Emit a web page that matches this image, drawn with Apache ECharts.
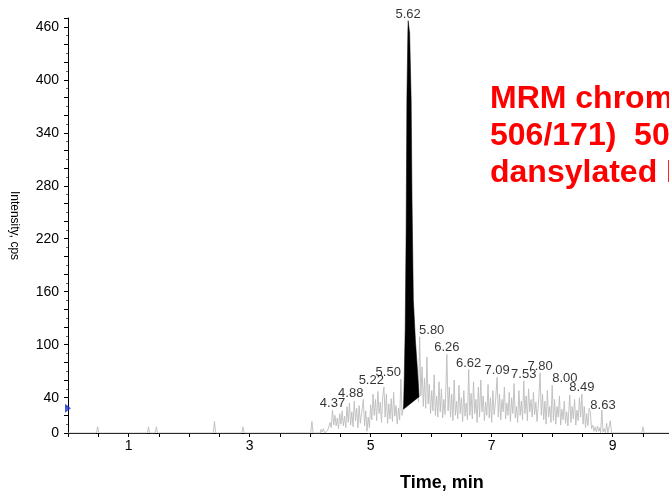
<!DOCTYPE html>
<html>
<head>
<meta charset="utf-8">
<script src="https://cdn.jsdelivr.net/npm/echarts@6/dist/echarts.min.js"></script>
<style>
html,body{margin:0;padding:0;background:#fff;}
#chart{width:669px;height:495px;}
</style>
</head>
<body>
<div id="chart"></div>
<script>
// ---- data ----
const xTickLabels = [1, 3, 5, 7, 9];
const yTickLabels = [0, 40, 100, 160, 220, 280, 340, 400, 460];

// raw MRM trace (time min, intensity cps); null = hidden under the integrated peak
const traceData = [
  [0.00,0],[0.47,0],[0.49,7],[0.51,0],[1.31,0],[1.33,7],[1.35,0],[1.44,0],[1.46,7],[1.48,0],
  [2.00,0],[2.02,2],[2.04,0],[2.40,0],[2.42,13],[2.44,0],[2.87,0],[2.89,7],[2.91,0],
  [4.01,0],[4.03,13],[4.05,0],[4.17,0],[4.18,4],[4.20,1],[4.22,5],[4.24,0],
  [4.27,0],[4.29,3],[4.31,1],[4.33,12],[4.35,6],[4.37,26],[4.39,9],[4.41,20],[4.43,8],[4.45,17],
  [4.47,5],[4.49,22],[4.51,10],[4.53,25],[4.55,8],[4.57,19],[4.59,6],
  [4.61,30],[4.63,12],[4.65,34],[4.67,9],[4.69,24],[4.71,7],[4.73,36],[4.75,14],[4.77,28],[4.79,6],
  [4.81,31],[4.83,11],[4.85,22],[4.88,38],[4.90,8],[4.92,25],[4.94,2],[4.96,18],[4.98,6],
  [5.00,32],[5.02,15],[5.04,44],[5.06,20],[5.08,38],[5.10,14],[5.12,47],[5.14,22],[5.16,35],[5.18,12],
  [5.20,41],[5.22,52],[5.24,18],[5.26,44],[5.28,11],[5.30,33],[5.32,16],[5.34,39],[5.36,13],[5.38,46],
  [5.40,19],[5.42,31],[5.44,10],[5.46,28],[5.48,15],[5.50,61],[5.52,20],[5.54,30],[5.56,null],
  [5.79,35],[5.81,109],[5.83,42],[5.85,75],[5.87,30],[5.89,62],[5.91,28],[5.93,86],[5.95,33],[5.97,55],
  [5.99,22],[6.01,48],[6.03,25],[6.05,66],[6.07,20],[6.09,42],[6.11,18],[6.13,58],[6.15,24],[6.17,50],
  [6.19,17],[6.21,38],[6.23,21],[6.26,89],
  [6.28,25],[6.30,52],[6.32,18],[6.34,44],[6.36,14],[6.38,60],[6.40,20],[6.42,36],[6.44,16],[6.46,54],
  [6.48,22],[6.50,40],[6.52,13],[6.54,48],[6.56,19],[6.58,34],[6.60,15],[6.62,72],
  [6.64,20],[6.66,45],[6.68,16],[6.70,58],[6.72,22],[6.74,38],[6.76,12],[6.78,52],[6.80,18],[6.82,60],
  [6.84,24],[6.86,42],[6.88,14],[6.90,35],[6.92,20],[6.94,55],[6.96,17],[6.98,40],[7.00,12],[7.02,48],
  [7.04,21],[7.06,33],[7.09,63],
  [7.11,18],[7.13,44],[7.15,15],[7.17,38],[7.19,24],[7.21,52],[7.23,16],[7.25,34],[7.27,20],[7.29,46],
  [7.31,13],[7.33,40],[7.35,22],[7.37,56],[7.39,17],[7.41,30],[7.43,12],[7.45,48],[7.47,20],[7.49,36],
  [7.51,15],[7.53,59],
  [7.55,22],[7.57,42],[7.59,14],[7.61,50],[7.63,24],[7.65,38],[7.67,18],[7.69,46],[7.71,21],[7.73,35],
  [7.75,13],[7.78,40],[7.80,68],[7.82,20],[7.84,44],[7.86,15],[7.88,36],[7.90,10],[7.92,48],[7.94,18],
  [7.96,30],[7.98,12],[8.00,54],
  [8.02,14],[8.04,38],[8.06,10],[8.08,30],[8.10,18],[8.12,42],[8.14,9],[8.16,27],[8.18,15],[8.20,36],
  [8.22,11],[8.24,24],[8.26,8],[8.29,43],[8.31,12],[8.33,30],[8.35,16],[8.37,38],[8.39,9],[8.41,26],
  [8.43,14],[8.45,40],[8.47,18],[8.49,44],
  [8.51,10],[8.53,30],[8.55,6],[8.57,22],[8.59,8],[8.61,28],[8.63,24],[8.65,5],[8.67,9],[8.69,2],
  [8.71,7],[8.73,1],[8.75,8],[8.77,2],[8.79,6],[8.80,0],[8.82,26],[8.84,1],[8.86,5],[8.88,0],
  [8.90,11],[8.92,0],[8.94,2],[8.96,14],[8.98,0],[9.48,0],[9.50,7],[9.52,0],[9.93,0]
];

// integrated peak outline (black area) with its sloping baseline
const peakTime      = [5.543, 5.555, 5.571, 5.587, 5.599, 5.615, 5.620, 5.645, 5.670, 5.684, 5.706, 5.740, 5.770, 5.801];
const peakIntensity = [27,    60,    117,   230,   377,   453,   467,   453,   377,   264,   151,   105,   75,    41];

// apex labels
const apexTimes   = [4.37, 4.88, 5.22, 5.50, 5.62, 5.80, 6.26, 6.62, 7.09, 7.53, 7.80, 8.00, 8.49, 8.63];
const apexHeights = [26,   38,   52,   61,   467,  109,  89,   72,   63,   59,   68,   54,   44,   24];

// threshold marker on the intensity axis
const thresholdValue = 27;

// ---- presentation ----
const labelAlign = {'4.88':'right','5.22':'right','5.50':'right','5.80':'left','8.00':'left','8.63':'left'};
const FONT = 'Liberation Sans, Arial, sans-serif';

const chart = echarts.init(document.getElementById('chart'), null, {renderer:'canvas'});
chart.setOption({
  animation: false,
  backgroundColor: '#ffffff',
  grid: {left: 68, right: 0, top: 18, bottom: 62, containLabel: false, outerBoundsMode: 'none'},
  xAxis: {
    type: 'value', min: 0, max: 9.93, interval: 0.5,
    axisLine: {show: true, lineStyle: {color: '#000', width: 1}},
    axisTick: {show: true, length: 4, lineStyle: {color: '#000'}},
    splitLine: {show: false},
    axisLabel: {
      color: '#000', fontSize: 14, fontFamily: FONT, margin: 6,
      showMaxLabel: false,
      formatter: v => xTickLabels.includes(v) ? String(v) : ''
    }
  },
  yAxis: {
    type: 'value', min: 0, max: 470, interval: 20,
    name: 'Intensity, cps', nameLocation: 'middle', nameRotate: -90, nameGap: 48,
    nameTextStyle: {color: '#000', fontSize: 12, fontFamily: FONT},
    axisLine: {show: true, lineStyle: {color: '#000', width: 1}},
    axisTick: {show: true, length: 4, lineStyle: {color: '#000'}},
    minorTick: {show: true, splitNumber: 2, length: 2, lineStyle: {color: '#666'}},
    splitLine: {show: false},
    axisLabel: {
      color: '#000', fontSize: 14, fontFamily: FONT, margin: 9,
      showMaxLabel: false,
      formatter: v => yTickLabels.includes(v) ? String(v) : ''
    }
  },
  graphic: [
    {type: 'text', left: 490, top: 81,
     style: {text: 'MRM chromatogram (m/z\n506/171)  50 pg\ndansylated E2', fill: '#ff0000',
             font: 'bold 32px ' + FONT, lineHeight: 37}},
    {type: 'text', left: 400, top: 474,
     style: {text: 'Time, min', fill: '#000', font: 'bold 18px ' + FONT}}
  ],
  series: [
    {
      type: 'line', data: traceData, showSymbol: false, connectNulls: false,
      lineStyle: {color: '#bcbcbc', width: 0.9}, z: 2, silent: true
    },
    {
      type: 'custom', data: [[peakTime[6], peakIntensity[6]]], z: 3, silent: true,
      renderItem: (params, api) => ({
        type: 'polygon',
        shape: {points: peakTime.map((t, i) => api.coord([t, peakIntensity[i]]))},
        style: {fill: '#000', stroke: '#000', lineWidth: 0.5}
      })
    },
    {
      type: 'scatter', symbolSize: 0, z: 4, silent: true,
      data: apexTimes.map((t, i) => ({
        value: [t, apexHeights[i]],
        label: {align: labelAlign[t.toFixed(2)] || 'center'}
      })),
      label: {
        show: true, position: 'top', distance: 0,
        formatter: p => p.value[0].toFixed(2),
        color: '#000', fontSize: 13, fontFamily: FONT, lineHeight: 13
      }
    },
    {
      type: 'scatter', data: [[0, thresholdValue]], symbol: 'triangle', symbolRotate: -90,
      symbolSize: [9, 6], symbolOffset: [0, -1], itemStyle: {color: '#1f2fd6'}, z: 10, zlevel: 1, silent: true, clip: false
    }
  ]
});
</script>
</body>
</html>
